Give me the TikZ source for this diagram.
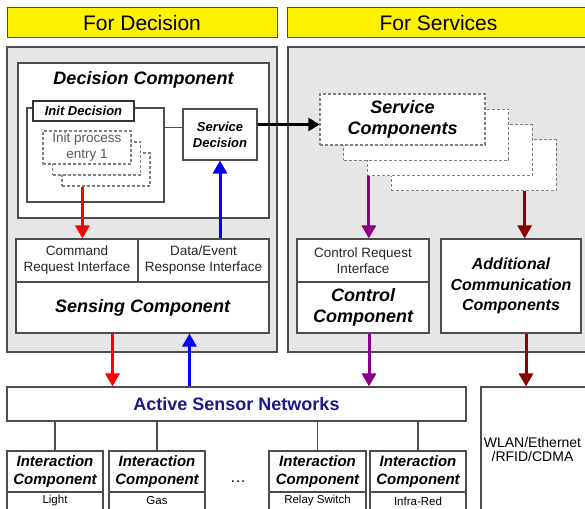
\documentclass[tikz,border=0pt]{standalone}
\usepackage{fontspec}
\setmainfont{Liberation Sans}
\usepackage{tikz}
\usetikzlibrary{arrows.meta}

\definecolor{panelgray}{HTML}{E6E6E6}
\definecolor{edgegray}{HTML}{4D4D4D}
\definecolor{dashgray}{HTML}{808080}
\definecolor{netblue}{HTML}{1A1A8C}
\definecolor{darkred}{HTML}{8B0000}
\definecolor{ctrlpurple}{HTML}{8B008B}

\tikzset{
  header/.style={draw=edgegray, line width=1pt, fill=yellow, inner sep=0pt,
    font=\fontsize{21}{24}\selectfont},
  panel/.style={draw=edgegray, line width=1.2pt, fill=panelgray, inner sep=0pt},
  box/.style={draw=edgegray, line width=1.1pt, fill=white, inner sep=0pt, align=center},
  dashbox/.style={box, draw=dashgray, dash pattern=on 3pt off 2pt},
  bigname/.style={font=\bfseries\itshape\fontsize{18}{21}\selectfont},
  midname/.style={font=\bfseries\itshape\fontsize{15}{18}\selectfont},
  smallname/.style={font=\bfseries\itshape\fontsize{13}{16}\selectfont},
  small/.style={font=\fontsize{13.5}{16}\selectfont, text=black!85},
  edge/.style={draw=edgegray, line width=1.1pt},
  flow/.style={line width=3pt, -{Triangle[width=14pt,length=13pt]}},
}

\begin{document}
\begin{tikzpicture}[x=1pt, y=-1pt]
  \useasboundingbox (0,0) rectangle (585,508);
  \clip (0,0) rectangle (585,508);

  % Headers
  \node[header, minimum width=270pt, minimum height=30pt] (dechead) at (142,23) {For Decision};
  \node[header, minimum width=303pt, minimum height=30pt] (svchead) at (438.5,23) {For Services};

  % Panels
  \node[panel, minimum width=270pt, minimum height=305pt] (decpanel) at (142,199.5) {};
  \node[panel, minimum width=302pt, minimum height=305pt] (svcpanel) at (439,199.5) {};

  % Decision component
  \node[box, minimum width=251pt, minimum height=155pt] (deccomp) at (143.5,140.5) {};
  \node[bigname] (dectitle) at (143.5,80) {Decision Component};
  \node[box, minimum width=137pt, minimum height=94pt] (initbox) at (95.5,155) {};
  \node[box, smallname, draw=black!80, line width=1.5pt, minimum width=101pt,
    minimum height=20pt] (inittab) at (83.5,111) {Init Decision};
  \foreach \k in {2,1}
    \node[dashbox, minimum width=88pt, minimum height=33pt] (init\k) at ({87+9.5*\k},{147.5+11*\k}) {};
  \node[dashbox, small, text=black!65, minimum width=88pt, minimum height=33pt] (init0)
    at (87,147.5) {Init process\\entry 1};
  \node[box, smallname, minimum width=74pt, minimum height=51pt] (svcdec) at (220,134.5) {Service\\Decision};

  % Service components
  \foreach \k in {3,2,1}
    \node[dashbox, minimum width=165pt, minimum height=51pt] (svc\k) at ({402.5+23.7*\k},{119.5+15.3*\k}) {};
  \node[dashbox, bigname, minimum width=165pt, minimum height=51pt] (svc0) at (402.5,119.5) {Service\\Components};

  % Interfaces
  \node[box, small, minimum width=122pt, minimum height=43pt] (cmdif) at (77,260.5) {Command\\Request Interface};
  \node[box, small, minimum width=131pt, minimum height=43pt] (datif) at (203.5,260.5) {Data/Event\\Response Interface};
  \node[box, bigname, minimum width=253pt, minimum height=51pt] (sensing) at (142.5,307.5) {Sensing Component};
  \node[box, small, minimum width=132pt, minimum height=43pt] (ctrlif) at (363,260.5) {Control Request\\Interface};
  \node[box, bigname, minimum width=132pt, minimum height=51pt] (ctrlcomp) at (363,307.5) {Control\\Component};
  \node[box, font=\bfseries\itshape\fontsize{16}{20.5}\selectfont, minimum width=140pt,
    minimum height=94pt] (addcomm) at (511,286) {Additional\\Communication\\Components};

  % Networks
  \node[box, font=\bfseries\fontsize{18}{21}\selectfont, text=netblue, minimum width=459pt,
    minimum height=34pt] (asn) at (236.5,404) {Active Sensor Networks};
  \node[box, minimum width=109pt, minimum height=125pt] (wlan) at (535.5,449.5) {};
  \node[font=\fontsize{14}{14}\selectfont, align=center] (wlantext) at (532.5,449.5) {WLAN/Ethernet\\/RFID/CDMA};

  % Interaction components
  \foreach \n/\x/\bw/\kind in {1/55/96/Light, 2/157/96/Gas, 3/317.5/97/Relay Switch, 4/418/96/Infra-Red} {
    \node[box, midname, minimum width=\bw pt, minimum height=41pt] (ic\n) at (\x,471.5) {Interaction\\Component};
    \node[box, font=\fontsize{11.5}{13}\selectfont, minimum width=\bw pt, minimum height=18pt] (kind\n)
      at (\x,501) {\kind};
    \draw[edge] (ic\n.north) -- (ic\n.north |- asn.south);
  }
  \node[font=\fontsize{16}{16}\selectfont] (dots) at (238,482) {\dots};

  % Links inside the panels
  \draw[edge] ([yshift=7pt]svcdec.west) -- ([yshift=7pt]svcdec.west -| initbox.east);
  \draw[line width=2.6pt, -{Triangle[width=13pt,length=11pt]}] ([yshift=10pt]svcdec.east)
    -- ([yshift=10pt]svcdec.east -| svc0.west);

  \coordinate (cmdtap) at ([xshift=21pt]init2.south west);
  \draw[flow, red] (cmdtap) -- (cmdtap |- cmdif.north);
  \draw[flow, blue] (svcdec.south |- datif.north) -- (svcdec.south);

  \coordinate (ctrltap) at ([xshift=2pt]svc2.south west);
  \draw[flow, ctrlpurple] (ctrltap) -- (ctrltap |- ctrlif.north);
  \coordinate (addtap) at ([xshift=-32pt]svc3.south east);
  \draw[flow, darkred] (addtap) -- (addtap |- addcomm.north);

  % Links down to the networks
  \coordinate (senseout) at ([xshift=97pt]sensing.south west);
  \draw[flow, red] (senseout) -- (senseout |- asn.north);
  \coordinate (sensein) at ([xshift=174pt]sensing.south west);
  \draw[flow, blue] (sensein |- asn.north) -- (sensein);
  \coordinate (ctrlout) at ([xshift=6pt]ctrlcomp.south);
  \draw[flow, ctrlpurple] (ctrlout) -- (ctrlout |- asn.north);
  \coordinate (addout) at ([xshift=15pt]addcomm.south);
  \draw[flow, darkred] (addout) -- (addout |- wlan.north);
\end{tikzpicture}
\end{document}
